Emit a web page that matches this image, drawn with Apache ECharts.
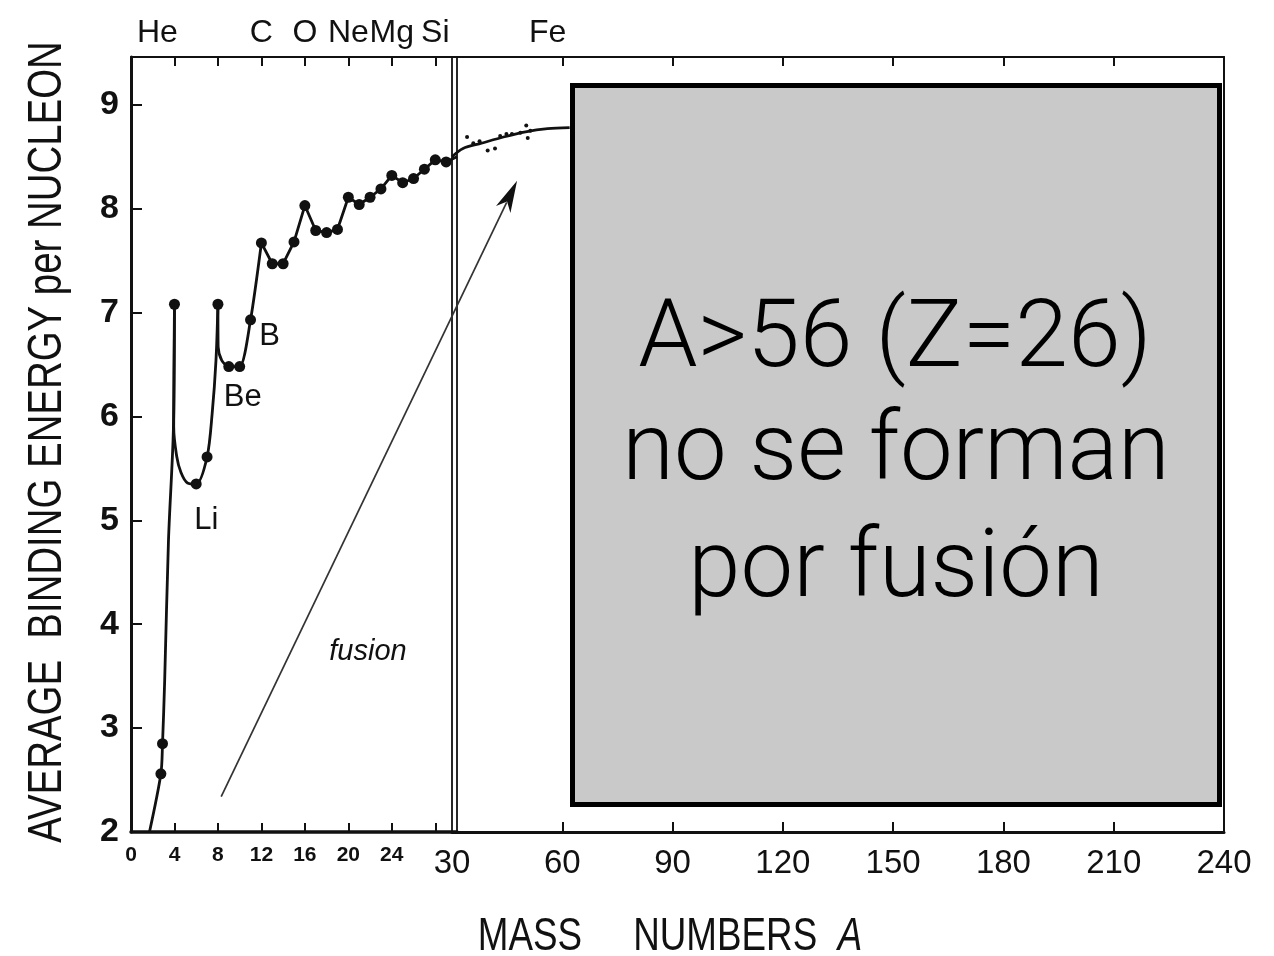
<!DOCTYPE html>
<html>
<head>
<meta charset="utf-8">
<script src="https://cdn.jsdelivr.net/npm/echarts@6/dist/echarts.min.js"></script>
<style>
  html, body { margin: 0; padding: 0; background: #ffffff; }
  #chart { width: 1274px; height: 956px; }
</style>
</head>
<body>
<div id="chart"></div>
<script>
// ---- Axis ticks and labels ----
const energyTicks = [2, 3, 4, 5, 6, 7, 8, 9];
const lowMassLabels = [0, 4, 8, 12, 16, 20, 24];          // expanded segment 0–30
const lowMassTicks = [4, 8, 12, 16, 20, 24, 28];
const highMassLabels = [30, 60, 90, 120, 150, 180, 210, 240];
const highMassTicks = [60, 90, 120, 150, 180, 210];
const elementMass = [4, 12, 16, 20, 24, 28];
const elementNames = ['He', 'C', 'O', 'Ne', 'Mg', 'Si'];
const ironMass = [56];
const ironName = 'Fe';

// ---- Measured nuclides, A <= 29 (mass number, MeV per nucleon) ----
const lightNuclei = [
  [2.75, 2.56], [2.9, 2.85], [4, 7.08], [6, 5.35], [7, 5.61], [8, 7.08],
  [9, 6.48], [10, 6.48], [11, 6.93], [12, 7.67], [13, 7.47], [14, 7.47],
  [15, 7.68], [16, 8.03], [17, 7.79], [18, 7.77], [19, 7.80], [20, 8.11],
  [21, 8.04], [22, 8.11], [23, 8.19], [24, 8.32], [25, 8.25], [26, 8.29],
  [27, 8.38], [28, 8.47], [29, 8.45]
];
// element names written next to some of the points
const nuclideTagMass = [6, 9, 11];
const nuclideTagText = ['Li', 'Be', 'B'];

// ---- Scattered nuclides beyond A = 30 ----
const heavyNuclei = [
  [34.1, 8.69], [35.8, 8.63], [37.5, 8.65], [39.7, 8.56], [41.7, 8.58],
  [43.1, 8.70], [44.8, 8.72], [46.3, 8.72], [48.6, 8.73], [50.2, 8.80],
  [50.6, 8.68], [51.3, 8.75]
];

// ---- Curve pieces ----
const curveRise = [[1.7, 2.0], [2.75, 2.56], [2.9, 2.85], [3.1, 3.46], [3.45, 4.81], [3.9, 5.87], [4.0, 7.08]];
const curveLithium = [[4.0, 7.08], [3.93, 5.9], [4.2, 5.62], [4.6, 5.46], [5.2, 5.36], [6, 5.35], [7, 5.61], [7.47, 6.03], [7.82, 6.54], [8, 7.08]];
const curveBeryllium = [[8, 7.08], [8.02, 6.67], [8.35, 6.54], [9, 6.48], [10, 6.48], [11, 6.93], [12, 7.67]];
const curveMedium = [
  [12, 7.67], [13, 7.47], [14, 7.47], [15, 7.68], [16, 8.03], [17, 7.79], [18, 7.77],
  [19, 7.80], [20, 8.11], [21, 8.04], [22, 8.11], [23, 8.19], [24, 8.32], [25, 8.25],
  [26, 8.29], [27, 8.38], [28, 8.47], [29, 8.45], [30, 8.50]
];
const curveHeavy = [[30, 8.50], [33, 8.58], [38, 8.63], [44, 8.69], [50, 8.74], [56, 8.77], [62, 8.78]];

// fusion arrow, from the light-nuclei panel to the heavy panel
const fusionArrowFrom = [8.3, 2.34];
const fusionArrowTo = [47.7, 8.27];

const INK = '#111111';
const SANS = '"Liberation Sans", Arial, Helvetica, sans-serif';

const chart = echarts.init(document.getElementById('chart'), null, { renderer: 'canvas' });

function frameY(gridIndex, position, width) {
  return {
    type: 'value', gridIndex: gridIndex, position: position,
    min: 2, max: 9.46,
    axisLine: { show: true, onZero: false, lineStyle: { color: INK, width: width } },
    axisTick: { show: false }, axisLabel: { show: false }, splitLine: { show: false }
  };
}

function lineSeries(data, xi, yi, smooth) {
  return {
    type: 'line', data: data, xAxisIndex: xi, yAxisIndex: yi,
    smooth: smooth, symbol: 'none', silent: true, animation: false,
    lineStyle: { color: INK, width: 2.8, opacity: 1 }, z: 3
  };
}

const option = {
  animation: false,
  backgroundColor: '#ffffff',
  grid: [
    { left: 131, top: 57, width: 326, height: 775 },
    { left: 452, top: 57, width: 772, height: 775 }
  ],
  xAxis: [
    { // bottom, 0–30
      type: 'value', gridIndex: 0, position: 'bottom', min: 0, max: 30,
      axisLine: { show: true, onZero: false, lineStyle: { color: INK, width: 3.5 } },
      axisTick: { show: true, inside: true, length: 9, customValues: lowMassTicks, lineStyle: { color: INK, width: 2 } },
      axisLabel: { show: true, customValues: lowMassLabels, margin: 13, fontFamily: SANS, fontSize: 21, fontWeight: 'bold', color: INK },
      splitLine: { show: false }
    },
    { // bottom, 30–240
      type: 'value', gridIndex: 1, position: 'bottom', min: 30, max: 240,
      axisLine: { show: true, onZero: false, lineStyle: { color: INK, width: 3 } },
      axisTick: { show: true, inside: true, length: 10, customValues: highMassTicks, lineStyle: { color: INK, width: 2 } },
      axisLabel: { show: true, customValues: highMassLabels, margin: 15, fontFamily: SANS, fontSize: 33, color: INK },
      splitLine: { show: false }
    },
    { // top, element names
      type: 'value', gridIndex: 0, position: 'top', min: 0, max: 30,
      axisLine: { show: true, onZero: false, lineStyle: { color: INK, width: 2 } },
      axisTick: { show: true, inside: true, length: 9, customValues: lowMassTicks, lineStyle: { color: INK, width: 2 } },
      axisLabel: {
        show: true, customValues: elementMass, margin: 8, color: INK,
        fontFamily: SANS, fontSize: 32,
        formatter: function (v) {
          const name = elementNames[elementMass.indexOf(v)];
          return v === 4 ? '{he|' + name + '}' : name;
        },
        rich: { he: { fontFamily: SANS, fontSize: 32, color: INK, padding: [0, 34, 0, 0] } }
      },
      splitLine: { show: false }
    },
    { // top, iron
      type: 'value', gridIndex: 1, position: 'top', min: 30, max: 240,
      axisLine: { show: true, onZero: false, lineStyle: { color: INK, width: 2 } },
      axisTick: { show: true, inside: true, length: 9, customValues: highMassTicks, lineStyle: { color: INK, width: 2 } },
      axisLabel: {
        show: true, customValues: ironMass, margin: 8, color: INK,
        fontFamily: SANS, fontSize: 32, formatter: function () { return ironName; }
      },
      splitLine: { show: false }
    }
  ],
  yAxis: [
    {
      type: 'value', gridIndex: 0, position: 'left', min: 2, max: 9.46,
      axisLine: { show: true, onZero: false, lineStyle: { color: INK, width: 3 } },
      axisTick: { show: true, inside: true, length: 11, customValues: energyTicks, lineStyle: { color: INK, width: 2 } },
      axisLabel: { show: true, customValues: energyTicks, margin: 12, fontFamily: SANS, fontSize: 34, fontWeight: 'bold', color: INK },
      splitLine: { show: false }
    },
    frameY(0, 'right', 1.8),
    frameY(1, 'left', 1.8),
    frameY(1, 'right', 2)
  ],
  series: [
    lineSeries(curveRise, 0, 0, 0.3),
    lineSeries(curveLithium, 0, 0, 0.3),
    lineSeries(curveBeryllium, 0, 0, 0.25),
    lineSeries(curveMedium, 0, 0, false),
    lineSeries(curveHeavy, 1, 2, 0.3),
    {
      type: 'scatter', xAxisIndex: 0, yAxisIndex: 0, symbol: 'circle', symbolSize: 11,
      itemStyle: { color: INK, opacity: 1 }, z: 4, silent: true,
      data: lightNuclei.map(function (p) {
        const k = nuclideTagMass.indexOf(p[0]);
        if (k < 0) return p;
        const offsets = [[10, 36], [14, 31], [19, 17]];
        return {
          value: p,
          label: {
            show: true, position: 'inside', offset: offsets[k],
            formatter: nuclideTagText[k], fontFamily: SANS, fontSize: 31, color: INK, opacity: 1
          }
        };
      })
    },
    {
      type: 'scatter', xAxisIndex: 1, yAxisIndex: 2, symbol: 'circle', symbolSize: 4,
      itemStyle: { color: INK, opacity: 1 }, z: 4, silent: true, data: heavyNuclei
    }
  ]
};

chart.setOption(option);

// Annotations positioned through the axes
const p0 = chart.convertToPixel({ xAxisIndex: 0, yAxisIndex: 0 }, fusionArrowFrom);
const p1 = chart.convertToPixel({ xAxisIndex: 1, yAxisIndex: 2 }, fusionArrowTo);
const ang = Math.atan2(p1[1] - p0[1], p1[0] - p0[0]);
const headLen = 32, headHalf = 8;
function pt(base, along, across) {
  return [
    base[0] + Math.cos(ang) * along - Math.sin(ang) * across,
    base[1] + Math.sin(ang) * along + Math.cos(ang) * across
  ];
}
const headPts = [p1, pt(p1, -headLen, -headHalf), pt(p1, -headLen * 0.72, 0), pt(p1, -headLen, headHalf)];
const shaftEnd = pt(p1, -headLen * 0.75, 0);

chart.setOption({
  graphic: [
    {
      type: 'line', z: 5, silent: true,
      shape: { x1: p0[0], y1: p0[1], x2: shaftEnd[0], y2: shaftEnd[1] },
      style: { stroke: '#333333', lineWidth: 1.7 }
    },
    {
      type: 'polygon', z: 5, silent: true,
      shape: { points: headPts },
      style: { fill: INK }
    },
    {
      type: 'text', z: 5, silent: true, x: 368, y: 652,
      style: { text: 'fusion', fontFamily: SANS, fontStyle: 'italic', fontSize: 29, fill: INK, align: 'center', verticalAlign: 'middle' }
    },
    { // vertical axis title, condensed lettering
      type: 'text', z: 5, silent: true, x: 48, y: 442, rotation: Math.PI / 2, scaleX: 0.8,
      style: { text: 'AVERAGE  BINDING ENERGY per NUCLEON', fontFamily: SANS, fontSize: 48, fill: INK, align: 'center', verticalAlign: 'middle' }
    },
    { // horizontal axis title
      type: 'text', z: 5, silent: true, x: 670, y: 937, scaleX: 0.8,
      style: {
        text: '{t|MASS     NUMBERS  }{a|A}', align: 'center', verticalAlign: 'middle',
        rich: {
          t: { fontFamily: SANS, fontSize: 46, fill: INK },
          a: { fontFamily: SANS, fontSize: 46, fontStyle: 'italic', fill: INK }
        }
      }
    },
    {
      type: 'rect', z: 10, silent: true,
      shape: { x: 572.5, y: 85.5, width: 647, height: 719 },
      style: { fill: '#c9c9c9', stroke: '#000000', lineWidth: 5 }
    },
    {
      type: 'text', z: 11, silent: true, x: 895, y: 342,
      style: { text: 'A>56 (Z=26)', fontFamily: 'Roboto', fontWeight: 300, fontSize: 95, fill: '#000000', align: 'center', verticalAlign: 'middle' }
    },
    {
      type: 'text', z: 11, silent: true, x: 896, y: 455,
      style: { text: 'no se forman', fontFamily: 'Roboto', fontWeight: 300, fontSize: 94, fill: '#000000', align: 'center', verticalAlign: 'middle' }
    },
    {
      type: 'text', z: 11, silent: true, x: 896, y: 572,
      style: { text: 'por fusión', fontFamily: 'Roboto', fontWeight: 300, fontSize: 94, fill: '#000000', align: 'center', verticalAlign: 'middle' }
    }
  ]
});
</script>
</body>
</html>
